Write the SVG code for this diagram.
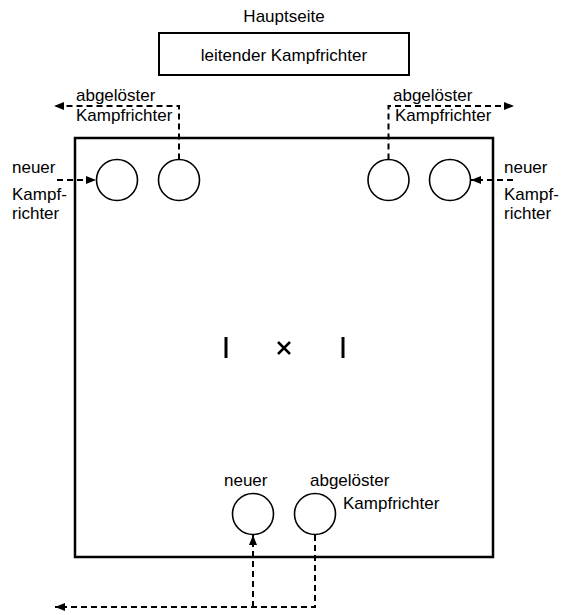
<svg xmlns="http://www.w3.org/2000/svg" width="568" height="615" viewBox="0 0 568 615">
<style>
text{font-family:"Liberation Sans",Arial,sans-serif;font-size:17px;fill:#000}
.c{fill:#fff;stroke:#000;stroke-width:1.6}
.d{fill:none;stroke:#000;stroke-width:2;stroke-dasharray:6,4}
.s{fill:none;stroke:#000;stroke-width:2.5}
</style>
<defs>
<marker id="a" viewBox="0 0 10 8" refX="10" refY="4" markerWidth="10" markerHeight="8" markerUnits="userSpaceOnUse" orient="auto">
<path d="M0,0 L10,4 L0,8 Z" fill="#000"/>
</marker>
</defs>
<rect width="568" height="615" fill="#fff"/>
<text x="284" y="22" text-anchor="middle">Hauptseite</text>
<g id="field">
<rect x="75" y="138" width="418" height="419" class="s"/>
<line x1="226" y1="337" x2="226" y2="358" stroke="#000" stroke-width="3"/>
<line x1="343" y1="337" x2="343" y2="358" stroke="#000" stroke-width="3"/>
<path d="M278,342 L290,354 M290,342 L278,354" stroke="#000" stroke-width="2.5"/>
</g>
<g id="leitender">
<rect x="159" y="33" width="250" height="42" fill="#fff" stroke="#000" stroke-width="2"/>
<text x="284" y="61" text-anchor="middle" font-size="18">leitender Kampfrichter</text>
</g>
<g id="j1"><circle cx="117" cy="180" r="20.5" class="c"/></g>
<g id="j2"><circle cx="179" cy="180" r="20.5" class="c"/></g>
<g id="j3"><circle cx="388.5" cy="180" r="20.5" class="c"/></g>
<g id="j4"><circle cx="450" cy="180" r="20.5" class="c"/></g>
<g id="j5"><circle cx="253" cy="514" r="20.5" class="c"/></g>
<g id="j6"><circle cx="315" cy="514" r="20.5" class="c"/></g>
<g id="connectors">
<path d="M179,159.5 V106 H54" class="d" marker-end="url(#a)"/>
<path d="M388.5,159.5 V106 H514" class="d" marker-end="url(#a)"/>
<path d="M57,180 H96" class="d" marker-end="url(#a)"/>
<path d="M513,180 H471" class="d" marker-end="url(#a)"/>
<path d="M253,607 V535" class="d" marker-end="url(#a)"/>
<path d="M315,535 V607 H55" class="d" marker-end="url(#a)"/>
</g>
<g id="labels">
<text x="76" y="101">abgelöster</text>
<text x="76" y="121">Kampfrichter</text>
<text x="393" y="101">abgelöster</text>
<text x="395" y="121">Kampfrichter</text>
<text x="12" y="173">neuer</text>
<text x="12" y="200">Kampf-</text>
<text x="12" y="219">richter</text>
<text x="504" y="173">neuer</text>
<text x="504" y="200">Kampf-</text>
<text x="504" y="219">richter</text>
<text x="224" y="486">neuer</text>
<text x="310" y="486">abgelöster</text>
<text x="343" y="509">Kampfrichter</text>
</g>
</svg>
